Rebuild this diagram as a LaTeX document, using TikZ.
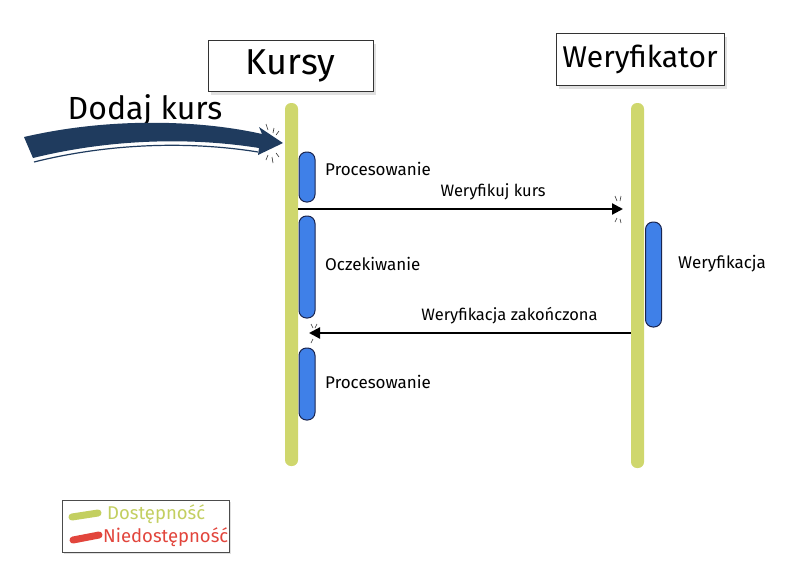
\documentclass[tikz,border=0pt]{standalone}
\usepackage{fontspec}
\setmainfont{Fira Sans}
\usetikzlibrary{arrows.meta}
\definecolor{lifegreen}{HTML}{CFD76D}
\definecolor{barblue}{HTML}{3F80E8}
\definecolor{barline}{HTML}{1A2550}
\definecolor{navy}{HTML}{1F3B5E}
\definecolor{legred}{HTML}{E2453C}
\definecolor{leggreen}{HTML}{C3CF60}
\tikzset{
  hbox/.style={draw=black!80, line width=0.8pt, fill=white, inner sep=0pt},
  life/.style={fill=lifegreen, draw=none, rounded corners=6pt, minimum width=13pt, inner sep=0pt},
  actbar/.style={fill=barblue, draw=barline, line width=1pt, rounded corners=7.5pt, minimum width=16pt, inner sep=0pt},
  lbl/.style={anchor=west, font=\fontsize{17}{20}\selectfont, inner sep=0pt},
  msglbl/.style={font=\fontsize{16.5}{19}\selectfont, inner sep=0pt, above=8pt},
  msg/.style={line width=2.2pt, -{Triangle[length=11pt,width=11pt]}},
  spark/.style={line width=0.6pt, black!80},
  shadowbox/.style={fill=black!12, draw=none},
  legtxt/.style={anchor=west, font=\fontsize{18.5}{21}\selectfont, inner sep=0pt}
}
\begin{document}
\begin{tikzpicture}[x=1pt,y=-1pt]
\useasboundingbox (0,0) rectangle (798,560);
% header boxes with soft shadow
\fill[shadowbox] (211,44) rectangle (376,95);
\node[hbox, minimum width=165pt, minimum height=51pt, font=\fontsize{36}{40}\selectfont] (kursy) at (290.5,65.5) {Kursy};
\fill[shadowbox] (559,37) rectangle (727,89);
\node[hbox, minimum width=168pt, minimum height=52pt, font=\fontsize{30}{34}\selectfont] (weryf) at (640,59) {Weryfikator};
% lifelines
\node[life, minimum height=363pt] (kl) at (291.5,284.5) {};
\node[life, minimum height=365pt] (wl) at (637.5,285.5) {};
% activation bars
\node[actbar, minimum height=50pt] (b1) at (307,177) {};
\node[actbar, minimum height=102pt] (b2) at (307,267) {};
\node[actbar, minimum height=72pt] (b3) at (307,384) {};
\node[actbar, minimum height=105pt] (b4) at (653.5,274.5) {};
% bar labels
\node[lbl] (l1) at (325,169) {Procesowanie};
\node[lbl] (l2) at (325,264) {Oczekiwanie};
\node[lbl] (l3) at (678,264) {Weryfikacja};
\node[lbl] (l4) at (325,382) {Procesowanie};
% messages
\coordinate (m1a) at (kl.east |- 0,209);
\coordinate (m1b) at (623,209);
\draw[msg] (m1a) -- (m1b) node[msglbl, pos=0.6] (t1) {Weryfikuj kurs};
\coordinate (m2a) at (wl.west |- 0,333);
\coordinate (m2b) at (309,333);
\draw[msg] (m2a) -- (m2b) node[msglbl, pos=0.377] (t2) {Weryfikacja zakończona};
% sparks
\draw[spark] (615,196) -- (617,201) (621,196) -- (620,201) (615,222) -- (617,218) (621,223) -- (620,219);
\draw[spark] (311,324) -- (313,328) (317,324) -- (315,328) (311,343) -- (313,339);
\draw[spark] (266,124) -- (268,130) (274,128) -- (273,133) (279,131) -- (276,135)
             (266,160) -- (268,155) (273,163) -- (272,157) (279,157) -- (276,153);
% entry arrow
\node[font=\fontsize{32}{36}\selectfont, inner sep=0pt] (dodaj) at (145,110) {Dodaj kurs};
\coordinate (e0) at (24,137);
\coordinate (etip) at (283,143);
\fill[navy] (e0) .. controls (110,117) and (200,120) .. (262,134)
  -- (259,127) -- (etip) -- (258,155) -- (259,148)
  .. controls (190,137) and (110,139) .. (33,158) -- cycle;
\draw[navy, line width=1.2pt] (34,162) .. controls (110,143) and (190,141) .. (258,152);
% legend
\fill[shadowbox] (64,502) rectangle (231,554);
\node[draw=black!70, line width=0.8pt, fill=white, minimum width=167pt, minimum height=52pt, inner sep=0pt] (legend) at (145.5,526) {};
\draw[leggreen, line width=7pt, line cap=round] (72,517) -- (98,513);
\draw[legred, line width=7pt, line cap=round] (73,540) -- (99,535);
\node[legtxt, text=leggreen] (dost) at (107,514) {Dostępność};
\node[legtxt, text=legred] (niedost) at (103,537) {Niedostępność};
\end{tikzpicture}
\end{document}
